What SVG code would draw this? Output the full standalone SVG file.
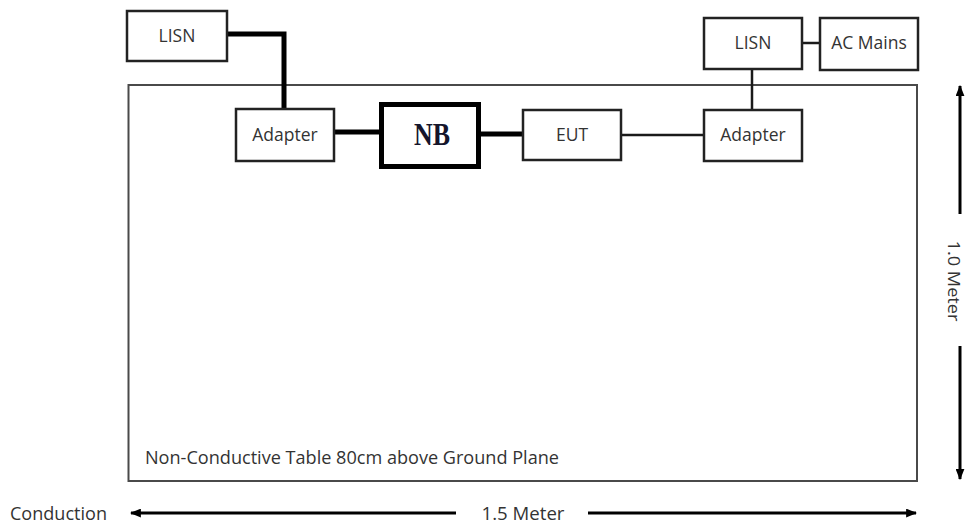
<svg xmlns="http://www.w3.org/2000/svg" width="966" height="525" viewBox="0 0 966 525">
<defs>
<style>
.box{fill:#fff;stroke:#222;stroke-width:2.5}
.lbl{font-family:"Open Sans","Liberation Sans",sans-serif;font-size:17.5px;fill:#333;text-anchor:middle}
.big{font-size:18.5px}
.thick{stroke:#000;stroke-width:5;fill:none}
.thin{stroke:#1a1a1a;stroke-width:2.5;fill:none}
.dim{stroke:#000;stroke-width:3;fill:none}
</style>
<marker id="ah" viewBox="0 0 10 8" refX="9" refY="4" markerUnits="userSpaceOnUse" markerWidth="11" markerHeight="9" orient="auto">
<path d="M0,0 L10,4 L0,8 z" fill="#000"/>
</marker>
</defs>
<rect width="966" height="525" fill="#fff"/>
<g id="table">
<rect x="128.5" y="85" width="788.5" height="396" fill="none" stroke="#4a4a4a" stroke-width="2"/>
<text class="lbl big" x="145" y="464" style="text-anchor:start" textLength="414" lengthAdjust="spacingAndGlyphs">Non-Conductive Table 80cm above Ground Plane</text>
</g>
<g id="connectors">
<polyline class="thick" points="227,34 284,34 284,109"/>
<line class="thick" x1="334" y1="132" x2="380" y2="132"/>
<line class="thick" x1="480" y1="134" x2="523" y2="134"/>
<line class="thin" x1="621" y1="135" x2="704" y2="135"/>
<line class="thin" x1="752" y1="69" x2="752" y2="110"/>
<line class="thin" stroke-width="3" x1="802" y1="43" x2="820" y2="43"/>
<line class="dim" x1="456" y1="513" x2="131" y2="513" marker-end="url(#ah)"/>
<line class="dim" x1="588" y1="513" x2="916" y2="513" marker-end="url(#ah)"/>
<line class="dim" x1="960" y1="214" x2="960" y2="86" marker-end="url(#ah)"/>
<line class="dim" x1="960" y1="346" x2="960" y2="479" marker-end="url(#ah)"/>
</g>
<g id="lisn-left">
<rect class="box" x="127" y="11" width="100" height="50"/>
<text class="lbl" x="177" y="42">LISN</text>
</g>
<g id="adapter-left">
<rect class="box" x="236" y="109" width="98" height="52"/>
<text class="lbl" x="285" y="141">Adapter</text>
</g>
<g id="nb">
<rect x="381.5" y="104.5" width="97" height="62" fill="#fff" stroke="#000" stroke-width="5"/>
<text x="432" y="145" font-family="'Liberation Serif',serif" font-weight="bold" font-size="31" fill="#15152b" text-anchor="middle" textLength="36" lengthAdjust="spacingAndGlyphs">NB</text>
</g>
<g id="eut">
<rect class="box" x="523" y="110" width="98" height="50"/>
<text class="lbl" x="572" y="141">EUT</text>
</g>
<g id="adapter-right">
<rect class="box" x="704" y="110" width="98" height="51"/>
<text class="lbl" x="753" y="141">Adapter</text>
</g>
<g id="lisn-right">
<rect class="box" x="704" y="18" width="98" height="51"/>
<text class="lbl" x="753" y="49">LISN</text>
</g>
<g id="ac-mains">
<rect class="box" x="820" y="18" width="98" height="52"/>
<text class="lbl" x="869" y="49">AC Mains</text>
</g>
<g id="labels">
<text class="lbl big" x="10" y="520" style="text-anchor:start" textLength="97" lengthAdjust="spacingAndGlyphs">Conduction</text>
<text class="lbl big" x="523" y="520" textLength="83" lengthAdjust="spacingAndGlyphs">1.5 Meter</text>
<text class="lbl" style="font-size:16.5px" transform="translate(948,281) rotate(90)" x="0" y="0" textLength="81" lengthAdjust="spacingAndGlyphs">1.0 Meter</text>
</g>
</svg>
